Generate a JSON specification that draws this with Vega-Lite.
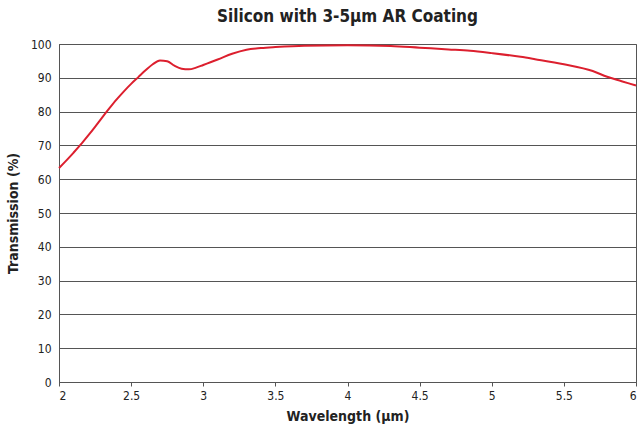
{
  "$schema": "https://vega.github.io/schema/vega-lite/v6.json",
  "width": 577,
  "height": 338,
  "autosize": {"type": "none"},
  "padding": {"left": 59, "top": 44, "right": 2, "bottom": 63},
  "background": "white",
  "title": {
    "text": "Silicon with 3-5µm AR Coating",
    "font": "Liberation Sans Narrow, DejaVu Sans Condensed, Roboto, sans-serif",
    "fontSize": 17,
    "fontWeight": "bold",
    "color": "#222",
    "anchor": "middle",
    "offset": 12
  },
  "config": {
    "view": {"stroke": "#555", "strokeWidth": 1},
    "axis": {
      "labelFont": "Liberation Sans Narrow, DejaVu Sans Condensed, Roboto, sans-serif",
      "titleFont": "Liberation Sans Narrow, DejaVu Sans Condensed, Roboto, sans-serif",
      "labelColor": "#222",
      "titleColor": "#222",
      "labelFontSize": 12,
      "titleFontSize": 14,
      "titleFontWeight": "bold"
    }
  },
  "data": {
    "values": [
      {"wl": 2.0, "t": 63.3},
      {"wl": 2.05, "t": 65.5},
      {"wl": 2.1, "t": 67.8},
      {"wl": 2.15, "t": 70.2},
      {"wl": 2.2, "t": 72.8},
      {"wl": 2.25, "t": 75.5},
      {"wl": 2.3, "t": 78.3},
      {"wl": 2.35, "t": 81},
      {"wl": 2.4, "t": 83.6},
      {"wl": 2.45, "t": 86},
      {"wl": 2.5, "t": 88.2},
      {"wl": 2.55, "t": 90.2},
      {"wl": 2.6, "t": 92.2},
      {"wl": 2.65, "t": 94},
      {"wl": 2.7, "t": 95.1},
      {"wl": 2.75, "t": 94.9},
      {"wl": 2.8, "t": 93.6},
      {"wl": 2.85, "t": 92.7},
      {"wl": 2.9, "t": 92.5},
      {"wl": 2.95, "t": 93},
      {"wl": 3.0, "t": 93.8},
      {"wl": 3.05, "t": 94.6},
      {"wl": 3.1, "t": 95.4},
      {"wl": 3.2, "t": 97.1},
      {"wl": 3.3, "t": 98.3},
      {"wl": 3.4, "t": 98.8},
      {"wl": 3.5, "t": 99.1},
      {"wl": 3.7, "t": 99.5},
      {"wl": 4.0, "t": 99.6},
      {"wl": 4.3, "t": 99.4},
      {"wl": 4.5, "t": 98.9},
      {"wl": 4.7, "t": 98.4},
      {"wl": 4.85, "t": 98},
      {"wl": 5.0, "t": 97.3},
      {"wl": 5.2, "t": 96.2},
      {"wl": 5.3, "t": 95.5},
      {"wl": 5.5, "t": 94},
      {"wl": 5.7, "t": 92},
      {"wl": 5.8, "t": 90.3},
      {"wl": 5.9, "t": 89},
      {"wl": 6.0, "t": 87.7}
    ]
  },
  "mark": {"type": "line", "color": "#dc1f2e", "strokeWidth": 2, "interpolate": "monotone"},
  "encoding": {
    "x": {
      "field": "wl",
      "type": "quantitative",
      "scale": {"domain": [2, 6], "nice": false},
      "axis": {
        "title": "Wavelength (µm)",
        "values": [2, 2.5, 3, 3.5, 4, 4.5, 5, 5.5, 6],
        "format": "~g",
        "grid": false,
        "domainColor": "#555",
        "tickColor": "#555",
        "tickSize": 4,
        "labelPadding": 4,
        "titlePadding": 8,
        "labelFlush": true
      }
    },
    "y": {
      "field": "t",
      "type": "quantitative",
      "scale": {"domain": [0, 100], "nice": false},
      "axis": {
        "title": "Transmission (%)",
        "values": [0, 10, 20, 30, 40, 50, 60, 70, 80, 90, 100],
        "grid": true,
        "gridColor": "#555",
        "gridOpacity": 1,
        "domainColor": "#555",
        "ticks": false,
        "labelPadding": 8,
        "titlePadding": 10
      }
    }
  }
}
